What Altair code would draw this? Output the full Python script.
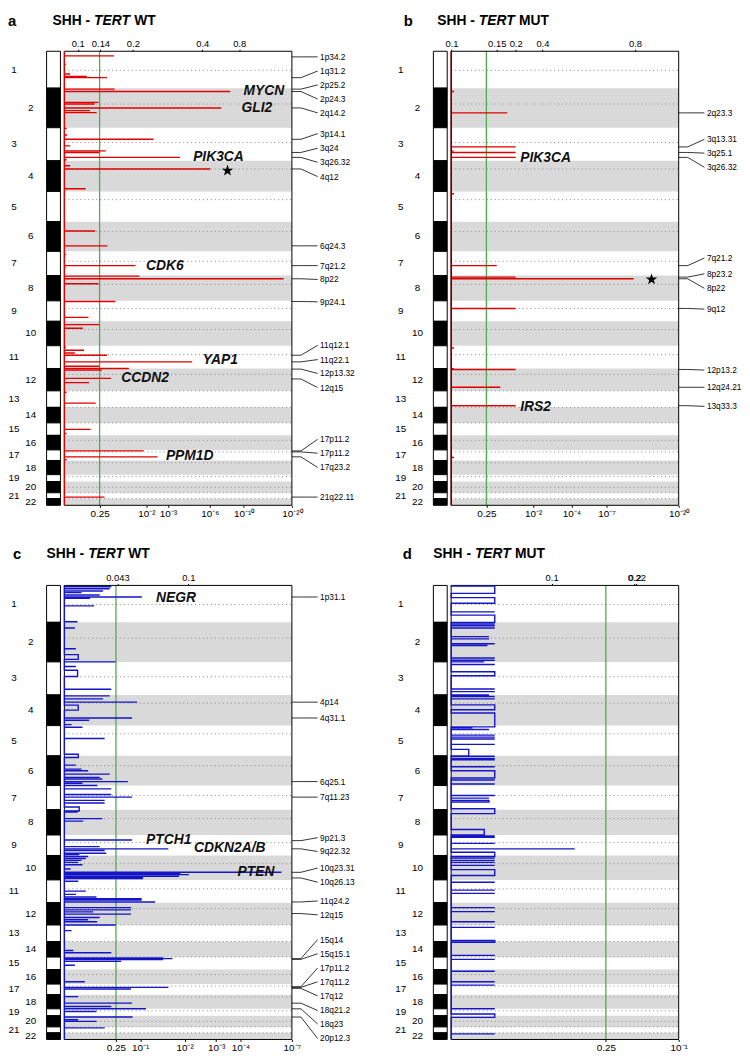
import altair as alt
import numpy as np
import pandas as pd

FONT = "Liberation Sans"
RED = "#e00000"
BLUE = "#1414c8"
GREEN = "#4fab4f"
BAND = "#d9d9d9"
Q25 = 0.602  # -log10(0.25)

# ---------------- chromosome layout (relative sizes) ----
CHR = list(range(1, 23))
CHR_LEN = [37.3, 40.0, 33.4, 31.0, 30.6, 30.0, 24.4, 25.6, 20.7, 24.7, 23.0,
           22.6, 16.7, 15.7, 12.6, 14.7, 10.7, 14.3, 7.0, 11.3, 6.0, 6.7]
CEN_OFF = [19.3, 16.0, 15.0, 8.3, 8.3, 10.0, 10.0, 9.0, 7.7, 8.3, 9.0,
           6.0, 0.0, 0.0, 0.0, 5.0, 2.0, 2.3, 2.0, 5.7, 0.0, 0.0]

# ---------------- panel a : SHH TERT WT, amplifications (-log10 q) -------------
A_POS = [4.7, 13.3, 23, 25.5, 26.7, 38.3, 40.7, 51.7, 53.3, 57.3, 60, 62, 78, 84.7,
         89, 95.7, 100.7, 102.3, 107.3, 109.7, 115.7, 119, 139, 181.7, 196.7, 205.5,
         216.7, 219, 227.3, 230, 235, 253, 269, 276.3, 280, 299, 302.3, 305, 307.3,
         314, 318.5, 320.7, 322.3, 330.7, 335, 344.7, 355.7, 382.3, 386.3, 404, 410,
         413, 450.7]
A_VAL = [0.94, 0.02, 0.08, 0.35, 0.77, 0.96, 8.2, 0.58, 0.5, 7.16, 0.41, 0.54, 0.03, 0.04,
         2.3, 0.08, 0.74, 0.6, 3.7, 0.03, 0.08, 6.05, 0.33, 0.51, 0.78, 0.02,
         1.59, 0.02, 1.73, 17.8, 0.58, 0.98, 0.38, 0.6, 0.28, 0.02, 0.3, 0.15, 0.77,
         4.53, 0.6, 1.37, 0.65, 0.87, 0.39, 0.03, 0.52, 0.42, 0.03, 1.89, 2.48,
         0.03, 0.71]
A_TOP_VALS = [0.197, 0.62, 1.5, 5.33, 9.37]
A_TOP_LABS = ["0.1", "0.14", "0.2", "0.4", "0.8"]
A_BOT_VALS = [Q25, 2, 3, 6, 10, 20]
A_BOT_EXP = ["", "-2", "-3", "-6", "-10", "-20"]
A_CYTO = ["1p34.2", "1q31.2", "2p25.2", "2p24.3", "2q14.2", "3p14.1", "3q24", "3q26.32",
          "4q12", "6q24.3", "7q21.2", "8p22", "9p24.1", "11q12.1", "11q22.1", "12p13.32",
          "12q15", "17p11.2", "17p11.2", "17q23.2", "21q22.11"]
A_CYTO_PEAK = [5.7, 26.7, 38.3, 40.7, 57.3, 89, 102.3, 107.3, 119, 196.7, 216.7, 230,
               253, 307.3, 314, 321.3, 331.3, 404, 405, 410, 450.7]
A_CYTO_LAB = [5.7, 20, 34, 48.3, 62.3, 83.3, 98, 112.3, 126.7, 196.7, 216.7, 230.7,
              253.3, 297.3, 311.7, 325.7, 340, 392.3, 406.3, 420.7, 450.7]
A_GENES = ["MYCN", "GLI2", "PIK3CA", "CDK6", "YAP1", "CCDN2", "PPM1D"]
A_GENE_V = [9.98, 9.69, 4.6, 1.98, 5.37, 1.14, 2.89]
A_GENE_POS = [40, 57.3, 107.3, 216.7, 312.3, 330, 409]
A_STAR = (7.87, 120.7)

# ---------------- panel b : SHH TERT MUT, amplifications -----------------------
B_POS = [40.7, 62.3, 96.7, 100.7, 102.3, 107.3, 144, 216.7, 228.3, 230, 260, 300,
         321, 321.7, 339.7, 358.3, 410.7]
B_VAL = [0.04, 1.12, 1.37, 0.03, 1.37, 1.37, 0.04, 0.84, 1.37, 10.5, 1.37, 0.04,
         0.04, 1.37, 0.93, 1.37, 0.04]
B_TOP_VALS = [0.005, 0.84, 1.37, 2.39, 10.7]
B_TOP_LABS = ["0.1", "0.15", "0.2", "0.4", "0.8"]
B_BOT_VALS = [Q25, 2, 4, 7, 20]
B_BOT_EXP = ["", "-2", "-4", "-7", "-20"]
B_CYTO = ["2q23.3", "3q13.31", "3q25.1", "3q26.32", "7q21.2", "8p23.2", "8p22", "9q12",
          "12p13.2", "12q24.21", "13q33.3"]
B_CYTO_PEAK = [62.3, 96.7, 102.3, 107.3, 216.7, 228.3, 230, 260, 321.7, 339.7, 358.3]
B_CYTO_LAB = [62.3, 89, 103, 117.3, 209, 225, 239.7, 260.7, 322.3, 339.7, 359]
B_GENES = ["PIK3CA", "IRS2"]
B_GENE_V = [1.52, 1.52]
B_GENE_POS = [108.3, 359.7]
B_STAR = (13.6, 230.7)

# ---------------- panel c : SHH TERT WT, deletions -----------------------------
C_SEG = [(1.3, 1.3, .535), (3.3, 3.3, .513), (5.7, 5.7, .424), (7.3, 7.3, .169),
         (9.7, 9.7, .381), (11.7, 11.7, 1.03), (13, 13, .262), (20.7, 20.7, .313),
         (36.7, 36.7, .128), (43, 43, .101), (64, 64, .111), (70, 74.7, .135),
         (77.3, 77.3, .597), (82, 82, .111), (85.7, 92, .128), (105, 105, .535),
         (111.7, 111.7, .513), (114.7, 114.7, .424), (118, 118, .942), (121, 126, .135),
         (134, 134, .857), (136.3, 136.3, .254), (140.7, 140.7, .068), (143.3, 143.3, .18),
         (154.7, 154.7, .445), (170.7, 174, .135), (181.7, 181.7, .111), (185.7, 185.7, .169),
         (187.3, 187.3, .243), (190.7, 190.7, .513), (194, 194, .381), (195.7, 195.7, .415),
         (198.3, 198.3, .787), (200, 200, .18), (202.3, 202.3, .352), (205.7, 205.7, .535),
         (211.3, 211.3, .535), (214, 214, .857), (217.3, 217.3, .445), (220, 220, .445),
         (224, 228, .145), (229, 229, .128), (235.7, 235.7, .415), (238.3, 238.3, .188),
         (257.3, 257.3, .857), (264, 264, .381), (266.3, 266.3, 1.587), (268, 268, .445),
         (270.7, 270.7, .467), (272, 272, .145), (274, 274, .243), (276, 276, .216),
         (278, 278, .169), (280, 280, .135), (282.3, 282.3, .18), (286.7, 286.7, .059),
         (290, 290, 6.27), (291.3, 291.3, 1.89), (292.3, 292.3, 2.12), (294, 294, 1.85),
         (294.8, 296.2, 1.04), (299, 299, .135), (309, 309, .216), (312.3, 312.3, .111),
         (315, 315, .341), (316.7, 318, 1.014), (320, 320, 1.293), (325.7, 325.7, .839),
         (328, 328, .839), (330, 330, .3), (332.3, 332.3, .839), (335.7, 335.7, .381),
         (338, 338, .243), (340, 340, .35), (343.3, 343.3, .597), (349, 349, .068),
         (369, 369, .085), (371.3, 371.3, .535), (376.5, 378.3, 1.45), (377.3, 377.3, 1.686),
         (380, 380, .681), (384, 384, .101), (400.7, 400.7, .206), (406.3, 406.3, 1.587),
         (408, 408, .839), (415.7, 415.7, .135), (422.3, 422.3, .857), (425.7, 425.7, .535),
         (428, 428, 1.107), (430.7, 430.7, .341), (436.3, 436.3, .866), (439, 439, .135),
         (440.7, 440.7, .341), (447.3, 447.3, .445)]
C_TOP_VALS = [0.623, 2.105]
C_TOP_LABS = ["0.043", "0.1"]
C_BOT_VALS = [Q25, 1, 2, 3, 4, 7]
C_BOT_EXP = ["", "-1", "-2", "-3", "-4", "-7"]
C_CYTO = ["1p31.1", "4p14", "4q31.1", "6q25.1", "7q11.23", "9p21.3", "9q22.32", "10q23.31",
          "10q26.13", "11q24.2", "12q15", "15q14", "15q15.1", "17p11.2", "17q11.2", "17q12",
          "18q21.2", "18q23", "20p12.3"]
C_CYTO_PEAK = [11.7, 118, 134, 198.3, 214, 258, 266.3, 290, 295.7, 320, 331.7, 377.3, 378,
               405.7, 406.3, 407.3, 422.3, 428, 436.3]
C_CYTO_LAB = [11.7, 118, 134, 198.3, 214, 255, 269, 285.7, 300, 319, 333, 358, 372.3,
              386.7, 400.7, 415, 429.7, 443.3, 458]
C_GENES = ["NEGR", "PTCH1", "CDKN2A/B", "PTEN"]
C_GENE_V = [1.31, 1.11, 2.27, 3.87]
C_GENE_POS = [12.3, 257.3, 265.7, 290]

# ---------------- panel d : SHH TERT MUT, deletions ----------------------------
D_SEG = [(0.7, 8.0, .142), (12.3, 18.0, .142), (26.7, 26.7, .142), (30.0, 37.3, .142),
         (39.0, 39.0, .142), (40.7, 40.7, .142), (43.0, 43.0, .142), (51.7, 51.7, .122),
         (54.0, 54.0, .122), (59.0, 59.0, .142), (60.7, 60.7, .117), (73.3, 73.3, .142),
         (75.7, 75.7, .142), (77.3, 77.3, .106), (80.0, 80.0, .142), (87.3, 91.3, .142),
         (104.7, 104.7, .142), (107.3, 107.3, .142), (110.7, 110.7, .122), (112.3, 112.3, .142),
         (114.7, 114.7, .142), (120.7, 125.7, .142), (129.0, 143.0, .142), (144.0, 144.0, .067),
         (145.7, 145.7, .122), (151.3, 151.3, .142), (153.3, 153.3, .142), (155.3, 155.3, .142),
         (160.7, 160.7, .142), (165.7, 172.3, .055), (172.7, 172.7, .142), (175.0, 175.0, .142),
         (176.3, 176.3, .142), (183.3, 183.3, .142), (187.3, 194.7, .142), (196.7, 196.7, .142),
         (200.7, 200.7, .142), (212.3, 212.3, .142), (215.0, 215.0, .122), (217.3, 219.0, .122),
         (225.7, 230.7, .142), (246.7, 252.3, .106), (253.3, 253.3, .142), (254.7, 254.7, .142),
         (260.7, 260.7, .142), (266.3, 266.3, .457), (269.7, 274.0, .142), (275.7, 275.7, .142),
         (278.0, 278.0, .142), (280.0, 280.0, .142), (283.0, 283.0, .142), (287.3, 293.3, .142),
         (300.0, 300.0, .142), (308.0, 308.0, .142), (311.3, 311.3, .142), (325.7, 325.7, .142),
         (329.7, 329.7, .142), (340.0, 340.0, .142), (345.7, 345.7, .142), (359.0, 360.7, .142),
         (374.0, 374.0, .142), (378.0, 378.0, .142), (390.0, 390.0, .142), (400.7, 400.7, .142),
         (404.0, 404.0, .142), (428.0, 428.0, .142), (433.3, 436.7, .142), (453.3, 453.3, .142)]
D_TOP_VALS = [0.358, 0.748, 0.758]
D_TOP_LABS = ["0.1", "0.2", "0.22"]
D_BOT_VALS = [Q25, 1]
D_BOT_EXP = ["", "-1"]

STAR = ("M0,-1L0.2245,-0.309L0.9511,-0.309L0.3633,0.118L0.5878,0.809L0,0.382"
        "L-0.5878,0.809L-0.3633,0.118L-0.9511,-0.309L-0.2245,-0.309Z")
SUP = str.maketrans("-0123456789", "\u207b\u2070\u00b9\u00b2\u00b3\u2074\u2075\u2076\u2077\u2078\u2079")

# ---------------- derived tables ----------------------------------------------
starts = np.concatenate([[0.0], np.cumsum(CHR_LEN)[:-1]])
ends = np.cumsum(CHR_LEN)
TOTAL = float(ends[-1])
chrom = pd.DataFrame({
    "chr": CHR, "start": starts, "end": ends, "mid": (starts + ends) / 2,
    "cen": starts + np.array(CEN_OFF),
    "even": [c % 2 == 0 for c in CHR],
    "parity": ["even" if c % 2 == 0 else "odd" for c in CHR],
    "label": [str(c) for c in CHR],
})


def path_df(segs):
    pts = [(0.0, 0.0)]
    for a, b, c in sorted(segs):
        pts += [(0.0, a), (c, a), (c, b), (0.0, b)]
    pts.append((0.0, TOTAL))
    return pd.DataFrame({"v": [p[0] for p in pts], "pos": [p[1] for p in pts],
                         "idx": list(range(len(pts)))})


def lab_expr(vals, labs):
    parts = [f"abs(datum.value - {v}) < 1e-6 ? '{l}'" for v, l in zip(vals, labs)]
    return " : ".join(parts) + " : ''"


def axis(orient, vals, labs, size, offset=0):
    return alt.Axis(orient=orient, values=vals, labelExpr=lab_expr(vals, labs), title=None,
                    grid=False, domain=False, ticks=True, tickSize=2, tickColor="black",
                    labelFontSize=size, labelPadding=1, labelFlush=False, labelOverlap=False,
                    labelColor="black", labelFont=FONT, offset=offset)


def panel(letter, letter_x, title_x, top, title_y, status, segs, vmax, color, top_vals, top_labs,
          bot_vals, bot_exp, cyto=None, genes=None, star=None, width=356, frame_top=False):
    ysc = alt.Scale(domain=[-top, TOTAL], reverse=True, nice=False, zero=False)

    def yenc(field):
        return alt.Y(f"{field}:Q", scale=ysc, axis=None)

    ms = alt.Scale(type="symlog", constant=1, domain=[0, vmax], range=[57, 287], nice=False, zero=False)
    bot_labs = ["0.25" if e == "" else "10" + e.translate(SUP) for e in bot_exp]
    box = pd.DataFrame({"x0": [0.0], "x1": [float(vmax)], "y0": [0.0], "y1": [TOTAL]})

    bands = alt.Chart(chrom).transform_filter("datum.even").transform_calculate(
        x0="0", x1=str(vmax)).mark_rect(color=BAND).encode(
        x=alt.X("x0:Q", scale=ms, axis=axis("bottom", bot_vals, bot_labs, 10)), x2="x1:Q",
        y=yenc("start"), y2="end:Q")
    cen = alt.Chart(chrom).transform_calculate(x0="0", x1=str(vmax)).mark_rule(
        color="#8c8c8c", strokeDash=[1.2, 2.8], strokeWidth=0.9).encode(
        x=alt.X("x0:Q", scale=ms, axis=None), x2="x1:Q", y=yenc("cen"))
    green = alt.Chart(pd.DataFrame({"q": [Q25], "y0": [0.0], "y1": [TOTAL]})).mark_rule(
        color=GREEN, strokeWidth=1.3).encode(x=alt.X("q:Q", scale=ms, axis=None), y=yenc("y0"), y2="y1:Q")
    frame = alt.Chart(box).mark_rect(fillOpacity=0, stroke="black", strokeWidth=1).encode(
        x=alt.X("x0:Q", scale=ms, axis=axis("top", top_vals, top_labs, 9.5, offset=-top)), x2="x1:Q",
        y=yenc("y0"), y2="y1:Q")
    path = alt.Chart(path_df(segs)).mark_line(color=color, strokeWidth=1.4).encode(
        x=alt.X("v:Q", scale=ms, axis=None), y=yenc("pos"), order="idx:Q")
    main_layers = [bands, cen, green] + ([path, frame] if frame_top else [frame, path])
    if genes:
        gdf = pd.DataFrame({"gn": genes[0], "gv": genes[1], "gp": genes[2]})
        main_layers.append(alt.Chart(gdf).mark_text(
            font=FONT, fontSize=14, fontWeight="bold", fontStyle="italic", align="left",
            baseline="middle", color="#111111").encode(
            x=alt.X("gv:Q", scale=ms, axis=None), y=yenc("gp"), text="gn:N"))
    if star:
        sdf = pd.DataFrame({"sv": [star[0]], "sp": [star[1]]})
        main_layers.append(alt.Chart(sdf).mark_point(
            shape=STAR, filled=True, color="black", size=150, opacity=1).encode(
            x=alt.X("sv:Q", scale=ms, axis=None), y=yenc("sp")))
    main = alt.layer(*main_layers)

    ideo = alt.Chart(chrom).transform_calculate(i0="0", i1="1").mark_rect(
        stroke="black", strokeWidth=1).encode(
        x=alt.X("i0:Q", scale=alt.Scale(domain=[0, 1], range=[39, 53], nice=False, zero=False), axis=None),
        x2="i1:Q", y=yenc("start"), y2="end:Q",
        fill=alt.Fill("parity:N", scale=alt.Scale(domain=["odd", "even"], range=["white", "black"]),
                      legend=None))
    chromlab = alt.Chart(chrom).mark_text(font=FONT, fontSize=10, color="black").encode(
        x=alt.X("parity:N", scale=alt.Scale(type="point", domain=["odd", "even"], range=[6, 23], padding=0),
                axis=None),
        y=yenc("mid"), text="label:N")

    layers = [main, ideo, chromlab]
    if cyto:
        names, peaks, labys = cyto
        rows = []
        for i, (p, l) in enumerate(zip(peaks, labys)):
            rows += [{"id": i, "k": 0, "cx": 0.0, "cy": p},
                     {"id": i, "k": 1, "cx": 0.35, "cy": p},
                     {"id": i, "k": 2, "cx": 1.0, "cy": l}]
        cs = alt.Scale(domain=[0, 1], range=[287, 313], nice=False, zero=False)
        conn = alt.Chart(pd.DataFrame(rows)).mark_line(color="black", strokeWidth=0.8).encode(
            x=alt.X("cx:Q", scale=cs, axis=None), y=yenc("cy"), detail="id:N", order="k:Q")
        lab = alt.Chart(pd.DataFrame({"name": names, "ly": labys})).transform_calculate(
            cx="1").mark_text(font=FONT, fontSize=8.4, align="left", baseline="middle", dx=2.5,
                              color="black").encode(
            x=alt.X("cx:Q", scale=cs, axis=None), y=yenc("ly"), text="name:N")
        layers.append(alt.layer(conn, lab))

    # panel title: letter + "SHH - TERT status" with TERT in italics
    tdf = pd.DataFrame({"t": [letter, "SHH -", "TERT", status],
                        "tx": [letter_x, title_x, title_x + 42, title_x + 82.5],
                        "ty": [title_y] * 4,
                        "it": [False, False, True, False],
                        "big": [True, False, False, False]})
    tsc = alt.Scale(domain=[0, 1], range=[0, 1], nice=False, zero=False)
    for italic in (False, True):
        for big in (False, True):
            sub = tdf[(tdf.it == italic) & (tdf.big == big)]
            if len(sub) == 0:
                continue
            layers.append(alt.Chart(sub).mark_text(
                font=FONT, fontSize=15 if big else 14, fontWeight="bold",
                fontStyle="italic" if italic else "normal", align="left", baseline="middle",
                color="black").encode(
                x=alt.X("tx:Q", scale=tsc, axis=None), y=yenc("ty"), text="t:N"))
    return alt.layer(*layers).resolve_scale(x="independent").properties(width=width, height=TOTAL + top)


pa = panel("a", 0, 45, 38, -31, "WT", [(p, p, v) for p, v in zip(A_POS, A_VAL)], 20, RED,
           A_TOP_VALS, A_TOP_LABS, A_BOT_VALS, A_BOT_EXP,
           cyto=(A_CYTO, A_CYTO_PEAK, A_CYTO_LAB), genes=(A_GENES, A_GENE_V, A_GENE_POS),
           star=A_STAR, width=356)
pb = panel("b", 9, 43, 38, -31, "MUT", [(p, p, v) for p, v in zip(B_POS, B_VAL)], 20, RED,
           B_TOP_VALS, B_TOP_LABS, B_BOT_VALS, B_BOT_EXP,
           cyto=(B_CYTO, B_CYTO_PEAK, B_CYTO_LAB), genes=(B_GENES, B_GENE_V, B_GENE_POS),
           star=B_STAR, width=343, frame_top=True)
pc = panel("c", 5, 39, 40, -32, "WT", C_SEG, 7, BLUE, C_TOP_VALS, C_TOP_LABS, C_BOT_VALS, C_BOT_EXP,
           cyto=(C_CYTO, C_CYTO_PEAK, C_CYTO_LAB), genes=(C_GENES, C_GENE_V, C_GENE_POS),
           width=356)
pd_ = panel("d", 8, 39, 40, -32, "MUT", D_SEG, 1, BLUE, D_TOP_VALS, D_TOP_LABS, D_BOT_VALS, D_BOT_EXP,
            width=343)

chart = alt.vconcat(
    alt.hconcat(pa, pb, spacing=35),
    alt.hconcat(pc, pd_, spacing=35),
    spacing=28,
).properties(padding=0).configure_view(stroke=None).configure_text(font=FONT)

chart.save("out.html", embed_options={"renderer": "svg", "actions": False})
